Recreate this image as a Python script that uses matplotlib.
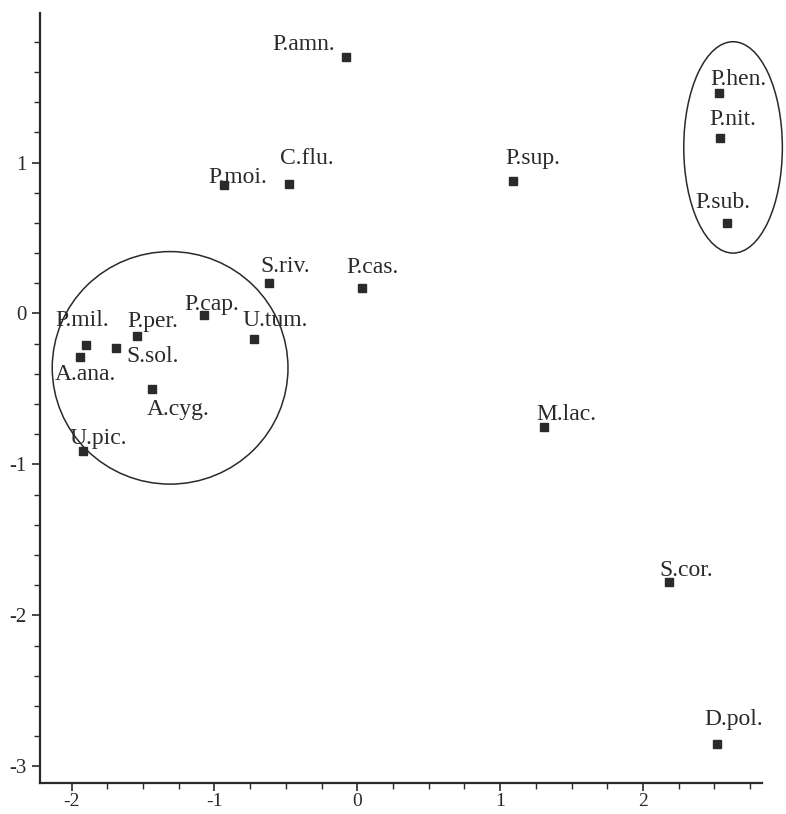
import numpy as np
import matplotlib.pyplot as plt
from matplotlib.patches import Ellipse
from matplotlib.ticker import MultipleLocator

plt.rcParams['font.family'] = ['Liberation Serif', 'DejaVu Serif']
plt.rcParams['axes.unicode_minus'] = False

# species scores (axis 1, axis 2)
species = ['P.amn.', 'P.hen.', 'P.nit.', 'P.sub.', 'C.flu.', 'P.moi.', 'P.sup.',
           'S.riv.', 'P.cas.', 'P.cap.', 'U.tum.', 'P.per.', 'P.mil.', 'S.sol.',
           'A.ana.', 'A.cyg.', 'U.pic.', 'M.lac.', 'S.cor.', 'D.pol.']
axis1 = [-0.08, 2.53, 2.54, 2.59, -0.48, -0.93, 1.09,
         -0.62, 0.03, -1.07, -0.72, -1.54, -1.90, -1.69,
         -1.94, -1.44, -1.92, 1.31, 2.18, 2.52]
axis2 = [1.70, 1.46, 1.16, 0.60, 0.86, 0.85, 0.88,
         0.20, 0.17, -0.01, -0.17, -0.15, -0.21, -0.23,
         -0.29, -0.50, -0.91, -0.75, -1.78, -2.85]

# group ellipses: centre x, centre y, width, height
groups_x = [-1.31, 2.63]
groups_y = [-0.36, 1.10]
groups_w = [1.65, 0.69]
groups_h = [1.54, 1.40]

# label placement (pixels from the point: text left, baseline)
label_offsets = {
    'P.amn.': (-73, -7), 'P.hen.': (-8, -8), 'P.nit.': (-11, -13),
    'P.sub.': (-32, -15), 'C.flu.': (-9, -20), 'P.moi.': (-16, -2),
    'P.sup.': (-8, -17), 'S.riv.': (-8, -11), 'P.cas.': (-15, -15),
    'P.cap.': (-20, -5), 'U.tum.': (-12, -13), 'P.per.': (-10, -9),
    'P.mil.': (-30, -19), 'S.sol.': (11, 14), 'A.ana.': (-25, 23),
    'A.cyg.': (-5, 26), 'U.pic.': (-13, -7), 'M.lac.': (-8, -7),
    'S.cor.': (-9, -6), 'D.pol.': (-13, -19),
}

ink = '#2a2a2a'

fig = plt.figure(figsize=(7.86, 8.14), dpi=100)
ax = fig.add_axes([0.051, 0.038, 0.918, 0.946])

ax.plot(axis1, axis2, 's', color=ink, markersize=6, linestyle='none')

for name, x, y in zip(species, axis1, axis2):
    dx, dy = label_offsets[name]
    ax.annotate(name, (x, y), xytext=(dx, -dy), textcoords='offset pixels',
                ha='left', va='baseline', fontsize=17, color=ink,
                annotation_clip=False)

for cx, cy, w, h in zip(groups_x, groups_y, groups_w, groups_h):
    ax.add_patch(Ellipse((cx, cy), w, h, fill=False, edgecolor=ink,
                         linewidth=1.1, clip_on=False))

ax.set_xlim(-2.22, 2.83)
ax.set_ylim(-3.11, 1.99)

for s in ['top', 'right']:
    ax.spines[s].set_visible(False)
for s in ['left', 'bottom']:
    ax.spines[s].set_linewidth(1.6)
    ax.spines[s].set_color(ink)

ax.xaxis.set_major_locator(MultipleLocator(1))
ax.xaxis.set_minor_locator(MultipleLocator(0.25))
ax.yaxis.set_major_locator(MultipleLocator(1))
ax.yaxis.set_minor_locator(MultipleLocator(0.2))
ax.tick_params(which='major', length=6, width=1.2, color=ink, labelsize=15,
               labelcolor=ink, pad=4)
ax.tick_params(axis='x', which='major', pad=1, labelsize=14)
ax.tick_params(which='minor', length=4, width=1.0, color=ink)

fig.savefig('out.png', dpi=100)
